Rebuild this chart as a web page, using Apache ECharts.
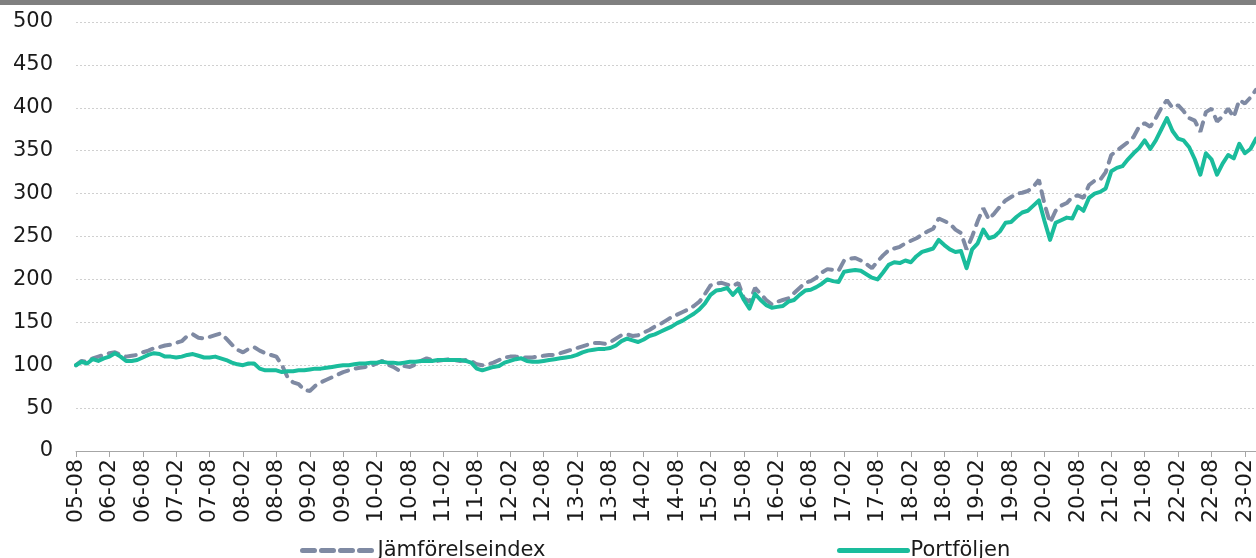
<!DOCTYPE html>
<html lang="sv">
<head>
  <meta charset="UTF-8" />
  <title>Portföljen mot jämförelseindex</title>
  <script src="https://cdn.jsdelivr.net/npm/echarts@6.0.0/dist/echarts.min.js"></script>
  <style>
    html, body { margin: 0; padding: 0; background: #fff; }
    #chart { width: 1256px; height: 558px; }
  </style>
</head>
<body>
  <div id="chart"></div>
  <script>
    // month labels, monthly from 2005-08 to 2023-04
    var startYear = 2005, startMonth = 8, monthCount = 213;
    var months = [];
    for (var k = 0; k < monthCount; k++) {
      var m = startMonth - 1 + k;
      var yy = (startYear + Math.floor(m / 12)) % 100;
      var mm = (m % 12) + 1;
      months.push((yy < 10 ? "0" : "") + yy + "-" + (mm < 10 ? "0" : "") + mm);
    }

    var seriesNames = ["Jämförelseindex", "Portföljen"];

    var jamforelseindex = [
      100, 105, 104, 108, 110, 112, 114, 115, 112, 110,
      111, 112, 115, 117, 120, 121, 123, 124, 126, 128,
      134, 136, 132, 131, 133, 135, 137, 131, 124, 118,
      115, 119, 121, 117, 114, 112, 110, 100, 86, 80,
      78, 71, 70, 76, 80, 83, 86, 89, 92, 94,
      96, 97, 98, 99, 102, 105, 101, 98, 94, 99,
      98, 101, 105, 108, 106, 105, 106, 107, 106, 105,
      106, 105, 101, 100, 101, 103, 106, 109, 110, 110,
      109, 109, 109, 110, 111, 112, 112, 114, 116, 118,
      120, 122, 124, 126, 126, 125, 127, 131, 135, 136,
      134, 135, 138, 141, 145, 148, 152, 156, 159, 162,
      165, 169, 174, 183, 193, 195, 196, 194, 192, 196,
      178, 174, 190, 183, 176, 171, 174, 176, 178, 184,
      190, 196, 198, 202, 208, 212, 211, 210, 222, 224,
      225, 222, 218, 213, 221, 228, 234, 236, 238, 242,
      245, 248, 252, 256, 259, 271, 268, 265, 258, 254,
      235, 250, 268, 283, 270, 277, 285, 292, 296, 300,
      301, 303, 308, 316, 288, 266, 280, 286, 289, 296,
      298, 295, 310, 315, 316, 325, 345, 350, 355, 360,
      366, 378, 382, 378, 388, 400, 409, 400, 403, 396,
      388, 385, 372, 395, 399, 384, 390, 399, 389, 409,
      405, 412, 421
    ];

    var portfoljen = [
      100, 104, 102, 107, 105, 108, 110, 114, 110, 105,
      105, 106, 109, 112, 114, 113, 110, 110, 109, 110,
      112, 113, 111, 109, 109, 110, 108, 106, 103, 101,
      100, 102, 102, 96, 94, 94, 94, 92, 93, 93,
      94, 94, 95, 96, 96, 97, 98, 99, 100, 100,
      101, 102, 102, 103, 103, 104, 103, 103, 102, 103,
      104, 104, 105, 105, 105, 106, 106, 106, 106, 106,
      105, 103, 96, 94, 96, 98, 99, 103, 105, 107,
      108, 105, 104, 104, 105, 106, 107, 108, 109, 110,
      112, 115, 117, 118, 119, 119, 120, 123, 128, 131,
      129, 127, 130, 134, 136, 139, 142, 145, 149, 152,
      156, 160, 165, 172, 182, 187, 188, 190, 182, 189,
      176, 166, 183, 176, 170, 167, 168, 169, 174, 176,
      182, 187, 188, 191, 195, 200, 198, 197, 209, 210,
      211, 210, 206, 202, 200, 208, 217, 220, 219, 222,
      220, 227, 232, 234, 236, 246, 240, 235, 232, 233,
      213, 235, 242, 258, 248, 250, 256, 266, 267, 273,
      278, 280, 286, 292, 268, 246, 266, 269, 272, 271,
      285, 280, 295, 300, 302, 306, 326, 330, 332, 340,
      347, 353, 362, 352, 362, 375, 388, 373, 364, 362,
      354, 340, 322, 347, 340, 322, 335, 345, 341, 358,
      347, 352, 364
    ];

    var yTicks = { min: 0, max: 500, step: 50 };
    var fontName = "DejaVu Sans";

    var chart = echarts.init(document.getElementById("chart"));

    var option = {
      animation: false,
      backgroundColor: "#ffffff",
      graphic: [
        {
          type: "rect",
          left: 0,
          top: 0,
          shape: { width: 1256, height: 5 },
          style: { fill: "#808080" }
        }
      ],
      grid: {
        left: 76,
        right: -3,
        top: 22,
        bottom: 107,
        containLabel: false
      },
      legend: [
        {
          data: [seriesNames[0]],
          left: 295,
          top: 535,
          itemWidth: 72,
          itemHeight: 14,
          itemStyle: { opacity: 0 },
          lineStyle: { width: 5, type: [12, 7], cap: "round" },
          textStyle: { fontFamily: fontName, fontSize: 21, color: "#1a1a1a", padding: [0, 0, 0, -2] }
        },
        {
          data: [seriesNames[1]],
          left: 832,
          top: 535,
          itemWidth: 68,
          itemHeight: 14,
          itemStyle: { opacity: 0 },
          lineStyle: { width: 5, cap: "round" },
          textStyle: { fontFamily: fontName, fontSize: 21, color: "#1a1a1a", padding: [0, 0, 0, -2] }
        }
      ],
      xAxis: {
        type: "category",
        data: months,
        boundaryGap: false,
        axisLine: { lineStyle: { color: "#a6a6a6", width: 1 } },
        axisTick: {
          interval: 5,
          length: 6,
          lineStyle: { color: "#a6a6a6" }
        },
        axisLabel: {
          interval: 5,
          rotate: 90,
          margin: 8,
          fontFamily: fontName,
          fontSize: 22,
          color: "#1a1a1a"
        },
        splitLine: { show: false }
      },
      yAxis: {
        type: "value",
        min: yTicks.min,
        max: yTicks.max,
        interval: yTicks.step,
        axisLine: { show: false },
        axisTick: { show: false },
        axisLabel: {
          margin: 23,
          fontFamily: fontName,
          fontSize: 21,
          color: "#1a1a1a"
        },
        splitLine: {
          lineStyle: { color: "#d0d0d0", type: [2, 2], width: 1 }
        }
      },
      series: [
        {
          name: seriesNames[0],
          type: "line",
          data: jamforelseindex,
          symbol: "none",
          showSymbol: false,
          color: "#7f8aa3",
          lineStyle: { color: "#7f8aa3", width: 4, type: [10, 8], cap: "round" },
          z: 2
        },
        {
          name: seriesNames[1],
          type: "line",
          data: portfoljen,
          symbol: "none",
          showSymbol: false,
          color: "#1abc9c",
          lineStyle: { color: "#1abc9c", width: 4, cap: "round", join: "round" },
          z: 3
        }
      ]
    };

    chart.setOption(option);
  </script>
</body>
</html>
